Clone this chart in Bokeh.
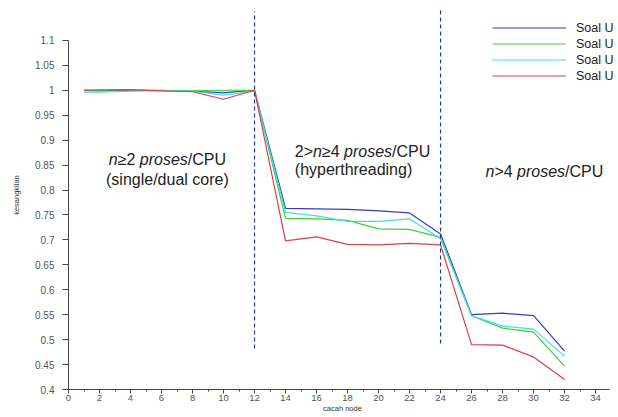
from bokeh.plotting import figure
from bokeh.models import Range1d, FixedTicker, Label, Legend, LegendItem
from bokeh.core.properties import value
from bokeh.embed import file_html
from bokeh.resources import INLINE

# ---- data ----
nodes = [1, 2, 4, 6, 8, 10, 12, 14, 16, 18, 20, 22, 24, 26, 28, 30, 32]
soal1 = [1.0, 0.999, 1.0, 0.999, 0.998, 0.995, 1.0, 0.763, 0.762, 0.761, 0.758, 0.754, 0.712, 0.550, 0.553, 0.548, 0.477]
soal2 = [1.0, 1.0, 1.001, 1.0, 0.999, 1.0, 1.0, 0.743, 0.742, 0.739, 0.722, 0.721, 0.705, 0.548, 0.523, 0.515, 0.447]
soal3 = [0.996, 0.996, 0.998, 0.999, 0.998, 0.990, 0.998, 0.755, 0.748, 0.737, 0.737, 0.742, 0.703, 0.548, 0.527, 0.521, 0.467]
soal4 = [1.0, 1.001, 1.001, 0.999, 0.997, 0.982, 1.0, 0.698, 0.706, 0.691, 0.690, 0.693, 0.690, 0.490, 0.489, 0.465, 0.420]
series_names = ["Soal U", "Soal U", "Soal U", "Soal U"]
region_bounds = [12, 24]

x_ticks = [0, 2, 4, 6, 8, 10, 12, 14, 16, 18, 20, 22, 24, 26, 28, 30, 32, 34]
x_minor = [1, 3, 5, 7, 9, 11, 13, 15, 17, 19, 21, 23, 25, 27, 29, 31, 33]
y_ticks = [0.4, 0.45, 0.5, 0.55, 0.6, 0.65, 0.7, 0.75, 0.8, 0.85, 0.9, 0.95, 1.0, 1.05, 1.1]
y_tick_labels = ["0.4", "0.45", "0.5", "0.55", "0.6", "0.65", "0.7", "0.75", "0.8", "0.85", "0.9", "0.95", "1", "1.05", "1.1"]

colors = ["#3a3ac8", "#3ccf3c", "#3fe0e0", "#e04040"]
FONT = "Liberation Sans"

p = figure(width=616, height=415, output_backend="svg", toolbar_location=None,
           x_range=Range1d(0, 35.35), y_range=Range1d(0.4, 1.18),
           min_border_left=68, min_border_right=0, min_border_top=0, min_border_bottom=26)
p.outline_line_color = None
p.grid.visible = False
p.background_fill_color = "white"
p.border_fill_color = "white"

# axes
p.xaxis.ticker = FixedTicker(ticks=x_ticks, minor_ticks=x_minor)
p.yaxis.ticker = FixedTicker(ticks=y_ticks, minor_ticks=[])
p.yaxis.major_label_overrides = {t: s for t, s in zip(y_ticks, y_tick_labels)}
p.yaxis.bounds = (0.4, 1.1)
p.xaxis.bounds = (0, 34.9)
for ax in (p.xaxis[0], p.yaxis[0]):
    ax.axis_line_color = "#444444"
    ax.major_tick_line_color = "#444444"
    ax.minor_tick_line_color = "#444444"
    ax.major_label_text_font = FONT
    ax.major_label_text_font_size = "10px"
    ax.major_label_text_color = "#555555"
    ax.major_tick_in = 0
    ax.minor_tick_in = 0
    ax.axis_label_text_font = FONT
    ax.axis_label_text_font_style = "normal"
    ax.axis_label_text_color = "#333333"
p.xaxis.major_tick_out = 4
p.xaxis.minor_tick_out = 2
p.xaxis.major_label_standoff = 1
p.xaxis.major_label_text_font_size = "9.5px"
p.xaxis.axis_label = "cacah node"
p.xaxis.axis_label_text_font_size = "7.5px"
p.xaxis.axis_label_standoff = 0
p.yaxis.major_tick_out = 6
p.yaxis.major_label_standoff = 8
p.yaxis.axis_label = "kesangkilan"
p.yaxis.axis_label_text_font_size = "7.5px"
p.yaxis.axis_label_standoff = 11

# fill between green and cyan in first region
p.varea(x=nodes[:7], y1=soal2[:7], y2=soal3[:7], fill_color="#7fe8a8", fill_alpha=0.6)

renderers = []
for ys, c in zip([soal1, soal2, soal3, soal4], colors):
    renderers.append(p.line(nodes, ys, line_color=c, line_width=1.2))

# region separators
p.segment(x0=region_bounds, y0=[0.482, 0.492], x1=region_bounds, y1=[1.158, 1.166],
          line_color="#1f3c88", line_width=1.2, line_dash="4 3")

legend = Legend(items=[LegendItem(label=value(n), renderers=[r]) for n, r in zip(series_names, renderers)],
                location=(424, 306), padding=0, margin=0, spacing=1,
                glyph_width=74, glyph_height=15, label_height=15, label_standoff=10,
                label_text_font=FONT, label_text_font_size="12.5px", label_text_color="#222222",
                border_line_color=None, background_fill_alpha=0)
p.add_layout(legend)

def seg_label(x, y, text, offset, italic):
    p.add_layout(Label(x=x, y=y, text=text, x_offset=offset, text_font=FONT,
                       text_font_size="16px", text_color="#222222",
                       text_font_style="italic" if italic else "normal",
                       text_baseline="middle", text_align="left"))

# block 1
for t, o, it in [("n", 0, True), ("\u22652 ", 8.9, False), ("proses", 31.0, True), ("/CPU", 79.0, False)]:
    seg_label(2.6, 0.862, t, o, it)
seg_label(2.42, 0.822, "(single/dual core)", 0, False)
# block 2
for t, o, it in [("2>", 0, False), ("n", 18.24, True), ("\u22654 ", 27.14, False), ("proses", 49.26, True), ("/CPU", 97.28, False)]:
    seg_label(14.6, 0.878, t, o, it)
seg_label(14.6, 0.841, "(hyperthreading)", 0, False)
# block 3
for t, o, it in [("n", 0, True), (">4 ", 8.9, False), ("proses", 31.58, True), ("/CPU", 79.6, False)]:
    seg_label(26.9, 0.838, t, o, it)

open("out.html", "w").write(file_html(p, INLINE))
